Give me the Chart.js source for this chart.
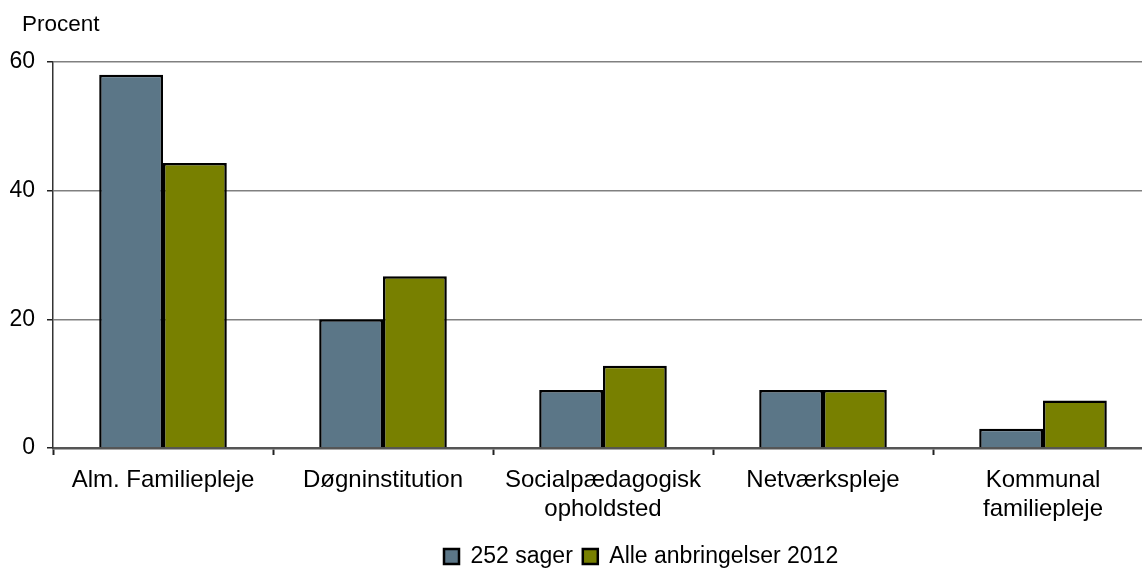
<!DOCTYPE html>
<html><head><meta charset="utf-8">
<script src="https://cdn.jsdelivr.net/npm/chart.js@4.4.1/dist/chart.umd.min.js"></script>
<style>html,body{margin:0;padding:0;background:#fff;}body{width:1142px;height:573px;overflow:hidden;}canvas{display:block;}</style>
</head><body>
<canvas id="c" width="1153" height="573"></canvas>
<script>
const categories = ["Alm. Familiepleje", "Døgninstitution", ["Socialpædagogisk", "opholdsted"], "Netværkspleje", ["Kommunal", "familiepleje"]];
const sager252 = [58, 20, 9, 9, 3];
const alleAnbringelser2012 = [44.3, 26.7, 12.8, 9, 7.4];
const yTicks = [0, 20, 40, 60];
const yTitle = "Procent";
const seriesNames = ["252 sager", "Alle anbringelser 2012"];

const FONT = "'Liberation Sans', Arial, sans-serif";
Chart.defaults.font.family = FONT;
Chart.defaults.color = "#000";

const titlePlugin = {
  id: 'ytitle',
  afterLayout(chart) {
    const L = chart.legend;
    if (L) {
      const w = L.right - L.left, h = L.bottom - L.top;
      L.left = 434; L.right = L.left + w;
      L.top = 535; L.bottom = L.top + h;
    }
  },
  afterDraw(chart) {
    const ctx = chart.ctx;
    ctx.save();
    ctx.font = "22.5px " + FONT;
    ctx.fillStyle = "#000";
    ctx.textBaseline = "middle";
    ctx.fillText(yTitle, 22, 25);
    ctx.restore();
  }
};

new Chart(document.getElementById('c'), {
  type: 'bar',
  data: {
    labels: categories,
    datasets: [
      { label: seriesNames[0], data: sager252, backgroundColor: '#5B7687', borderColor: '#000', borderWidth: 2.5 },
      { label: seriesNames[1], data: alleAnbringelser2012, backgroundColor: '#788000', borderColor: '#000', borderWidth: 2.5 }
    ]
  },
  options: {
    responsive: false,
    animation: false,
    devicePixelRatio: 1,
    layout: { padding: { top: 62, right: 0, left: 0, bottom: 0 } },
    datasets: { bar: { categoryPercentage: 0.58, barPercentage: 1.0 } },
    scales: {
      x: {
        grid: { display: true, drawOnChartArea: false, drawTicks: true, tickLength: 7, tickColor: '#222', tickWidth: 2, offset: true },
        border: { display: true, color: '#555', width: 2.5 },
        ticks: { font: { size: 24, family: FONT, lineHeight: 1.2 }, color: '#000', padding: 11, maxRotation: 0, autoSkip: false },
        afterFit(s) { s.height = 82; }
      },
      y: {
        min: 0, max: 60,
        afterBuildTicks(s) { s.ticks = yTicks.map(v => ({ value: v })); },
        grid: { color: (c) => c.tick && c.tick.value === 0 ? 'rgba(0,0,0,0)' : '#808080', lineWidth: 1.5, tickLength: 6, tickColor: '#222', tickWidth: 1.5 },
        border: { display: true, color: '#333', width: 1.5 },
        ticks: { font: { size: 23, family: FONT }, color: '#000', padding: 12 },
        afterFit(s) { s.width = 53; }
      }
    },
    plugins: {
      legend: {
        position: 'bottom',
        align: 'start',
        labels: { boxWidth: 15, boxHeight: 15, font: { size: 23, family: FONT }, color: '#000', padding: 10 }
      },
      tooltip: { enabled: false }
    }
  },
  plugins: [titlePlugin]
});
</script>
</body></html>
